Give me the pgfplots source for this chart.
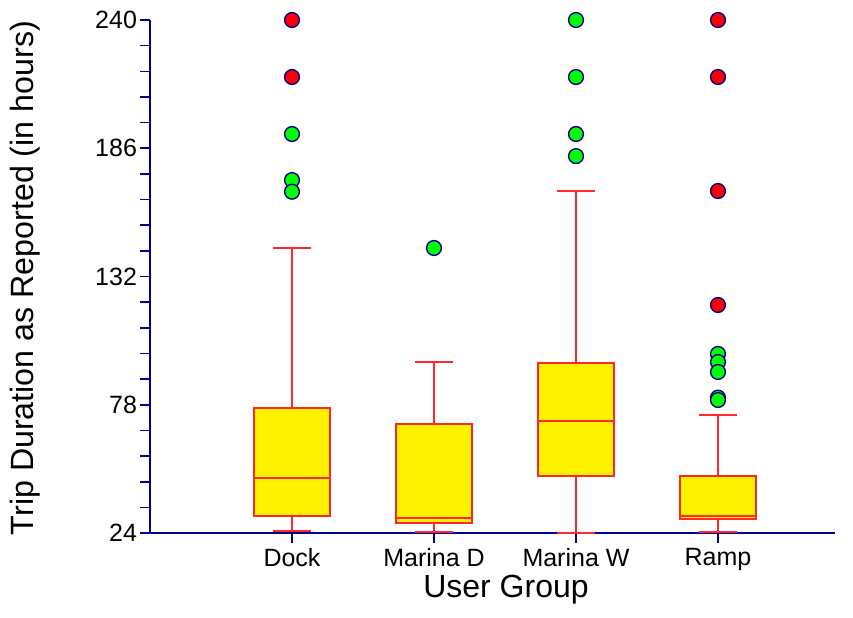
\documentclass[border=0pt]{standalone}
\usepackage{pgfplots}
\pgfplotsset{compat=1.18}
\usepackage{fontspec}
\setmainfont{Liberation Sans}
\definecolor{axisblue}{RGB}{0,0,140}
\definecolor{boxred}{RGB}{255,40,40}
\definecolor{outgreen}{RGB}{0,255,0}
\definecolor{outred}{RGB}{255,0,0}
\begin{document}
\begin{tikzpicture}
\useasboundingbox (-75pt,-42pt) rectangle (351.5pt,266.5pt);
\begin{axis}[
  at={(0,0)}, anchor=south west,
  scale only axis, width=342.5pt, height=256.5pt,
  xmin=0, xmax=4.824, ymin=24, ymax=240,
  clip=false,
  axis lines*=left,
  axis line style={axisblue, line width=0.8pt},
  every tick/.style={axisblue, line width=0.8pt},
  tick align=outside,
  major tick length=5pt, minor tick length=5pt,
  ytick={24,78,132,186,240},
  minor y tick num=4,
  xtick={1,2,3,4},
  xticklabels={Dock, Marina D, Marina W, Ramp},
  /pgf/number format/assume math mode=true,
  tick label style={font=\fontsize{12.5}{14}\selectfont, text=black},
  yticklabel style={xshift=2pt},
  xticklabel style={yshift=1pt},
  xlabel={User Group},
  ylabel={Trip Duration as Reported (in hours)},
  xlabel style={font=\fontsize{16}{18}\selectfont, at={(axis description cs:0.5197,-0.111)}, anchor=center},
  ylabel style={font=\fontsize{16.1}{18}\selectfont, at={(axis description cs:-0.1825,0.497)}, anchor=center},
  box/.style={fill=yellow, draw=boxred, line width=1pt},
  bl/.style={draw=boxred, line width=1pt},
]
% Dock: lw 25, q1 31, med 47.2, q3 76.6, uw 144
\addplot[bl] coordinates {(1,25) (1,31)};
\addplot[bl] coordinates {(1,76.6) (1,144)};
\addplot[bl] coordinates {(0.865,25) (1.135,25)};
\addplot[bl] coordinates {(0.865,144) (1.135,144)};
\addplot[box] coordinates {(0.7325,31) (1.2675,31) (1.2675,76.6) (0.7325,76.6)} -- cycle;
\addplot[bl] coordinates {(0.7325,47.2) (1.2675,47.2)};
% Marina D: lw 24.4, q1 28.1, med 30.4, q3 69.8, uw 96
\addplot[bl] coordinates {(2,24.4) (2,28.1)};
\addplot[bl] coordinates {(2,69.8) (2,96)};
\addplot[bl] coordinates {(1.865,24.4) (2.135,24.4)};
\addplot[bl] coordinates {(1.865,96) (2.135,96)};
\addplot[box] coordinates {(1.7325,28.1) (2.2675,28.1) (2.2675,69.8) (1.7325,69.8)} -- cycle;
\addplot[bl] coordinates {(1.7325,30.4) (2.2675,30.4)};
% Marina W: lw 24.2, q1 48, med 71.3, q3 95.7, uw 168
\addplot[bl] coordinates {(3,24.2) (3,48)};
\addplot[bl] coordinates {(3,95.7) (3,168)};
\addplot[bl] coordinates {(2.865,24.2) (3.135,24.2)};
\addplot[bl] coordinates {(2.865,168) (3.135,168)};
\addplot[box] coordinates {(2.7325,48) (3.2675,48) (3.2675,95.7) (2.7325,95.7)} -- cycle;
\addplot[bl] coordinates {(2.7325,71.3) (3.2675,71.3)};
% Ramp: lw 24.4, q1 29.9, med 31.3, q3 48, uw 73.8
\addplot[bl] coordinates {(4,24.4) (4,29.9)};
\addplot[bl] coordinates {(4,48) (4,73.8)};
\addplot[bl] coordinates {(3.865,24.4) (4.135,24.4)};
\addplot[bl] coordinates {(3.865,73.8) (4.135,73.8)};
\addplot[box] coordinates {(3.7325,29.9) (4.2675,29.9) (4.2675,48) (3.7325,48)} -- cycle;
\addplot[bl] coordinates {(3.7325,31.3) (4.2675,31.3)};
% mild outliers
\addplot[only marks, mark=*, mark size=3.7pt, mark options={fill=outgreen, draw=axisblue, line width=0.7pt}]
  coordinates {(1,192) (1,172.6) (1,167.7) (2,144) (3,240) (3,216) (3,192) (3,182.7)
  (4,99.4) (4,96) (4,91.8) (4,81) (4,80)};
% extreme outliers
\addplot[only marks, mark=*, mark size=3.7pt, mark options={fill=outred, draw=axisblue, line width=0.7pt}]
  coordinates {(1,240) (1,216) (4,240) (4,216) (4,168) (4,120)};
\end{axis}
\end{tikzpicture}
\end{document}
